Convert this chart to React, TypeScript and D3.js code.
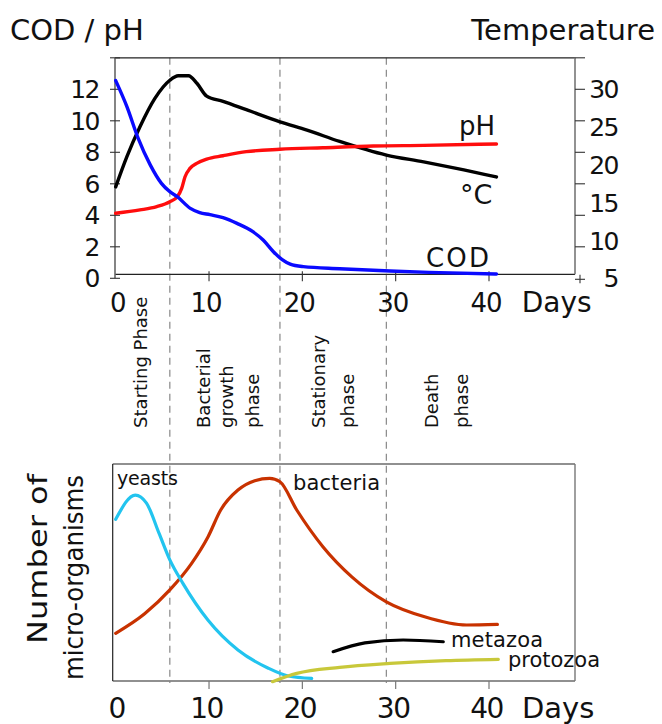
import React, { useEffect, useRef } from "react";
import * as d3 from "d3";

// top chart: COD, pH (left axis) and temperature (right axis)
const codDays = [0, 1.2, 2.4, 3.7, 4.9, 5.8, 6.6, 8.0, 9.0, 10.1, 11.5, 13.0, 14.7, 15.8, 16.9, 17.8, 18.7, 20.1, 24.0, 29.4, 34.7, 40.8];
const codValues = [12.55, 10.9, 8.9, 7.2, 6.03, 5.5, 5.18, 4.44, 4.17, 4.04, 3.85, 3.49, 2.96, 2.43, 1.69, 1.2, 0.9, 0.74, 0.61, 0.46, 0.36, 0.27];

const phDays = [0, 2.6, 4.4, 5.8, 6.6, 7.07, 7.43, 7.96, 8.68, 9.75, 11.5, 14, 17.6, 22.2, 27.6, 33, 40.8];
const phValues = [4.13, 4.34, 4.55, 4.86, 5.18, 5.71, 6.45, 6.98, 7.3, 7.57, 7.78, 8.04, 8.19, 8.29, 8.4, 8.44, 8.53];

const tempDays = [0, 1.2, 2.6, 4.2, 5.8, 6.7, 7.8, 8.7, 9.75, 11.5, 14, 17.6, 20.5, 24.0, 29.0, 33, 36.5, 40.8];
const tempValues = [17.1, 21.1, 25.05, 28.8, 31.2, 31.8, 31.8, 30.8, 29.1, 28.4, 27.3, 25.7, 24.6, 23.1, 21.3, 20.4, 19.55, 18.4];

const leftTicks = [0, 2, 4, 6, 8, 10, 12];
const tempTicks = [5, 10, 15, 20, 25, 30];
const dayTicks = [0, 10, 20, 30, 40];

// phase boundaries (days) and the words written between them
const phaseBounds = [5.8, 17.6, 29.0];
const phaseWords = ["Starting Phase", "Bacterial", "growth", "phase", "Stationary", "phase", "Death", "phase"];
const phaseWordDays = [2.7, 9.45, 11.9, 14.7, 21.7, 24.8, 33.8, 37.1];

// bottom chart: micro-organisms (relative units 0-100)
const yeastDays = [0, 2.1, 3.3, 4.65, 5.8, 7.2, 9.9, 13.1, 16.3, 18.5, 21];
const yeastValues = [74.5, 85.7, 82, 68, 55.8, 45, 28, 14.3, 6, 2.3, 1.2];

const bacteriaDays = [0, 3.1, 5.8, 8.1, 9.9, 11.25, 13.1, 14.9, 16.5, 17.6, 19.4, 22.2, 25.3, 29, 33.1, 37.6, 40.9];
const bacteriaValues = [22, 31, 42, 54, 66.5, 78.8, 88, 92.3, 93.4, 91.8, 78.8, 61.9, 48, 36.5, 29.6, 25.8, 26.1];

const metazoaDays = [23.3, 26.7, 30.8, 35.1];
const metazoaValues = [13.5, 17.6, 18.9, 18.1];

const protozoaDays = [16.8, 19.4, 24, 29.4, 35.4, 41];
const protozoaValues = [-0.3, 3.5, 6.3, 8.1, 9.4, 10];

const W = 662;
const H = 724;

const App = () => {
  const ref = useRef<SVGSVGElement>(null);

  useEffect(() => {
    const svg = d3.select(ref.current);
    svg.selectAll("*").remove();
    svg.attr("font-family", "'DejaVu Sans', Verdana, sans-serif").attr("fill", "#111");

    const x = d3.scaleLinear().domain([0, 40]).range([115.7, 489]);
    const yLeft = d3.scaleLinear().domain([0, 14]).range([278.3, 57.8]);
    const yTemp = d3.scaleLinear().domain([5, 30]).range([278.3, 89.3]);
    const yOrg = d3.scaleLinear().domain([0, 100]).range([681, 464]);

    const xL = x(0) - 0.7;
    const xR = 575;
    const topY = yLeft(14);
    const baseY = yLeft(0) - 4;

    const zip = (a: number[], b: number[]) => a.map((d, i) => [d, b[i]] as [number, number]);

    const drawLine = (pts: [number, number][], ys: d3.ScaleLinear<number, number>, color: string, w: number) => {
      const line = d3
        .line<[number, number]>()
        .x(d => x(d[0]))
        .y(d => ys(d[1]))
        .curve(d3.curveMonotoneX);
      svg
        .append("path")
        .attr("d", line(pts))
        .attr("fill", "none")
        .attr("stroke", color)
        .attr("stroke-width", w)
        .attr("stroke-linecap", "round")
        .attr("stroke-linejoin", "round");
    };

    const hline = (x1: number, x2: number, y: number, color: string, w = 1.2) =>
      svg.append("line").attr("x1", x1).attr("x2", x2).attr("y1", y).attr("y2", y).attr("stroke", color).attr("stroke-width", w);
    const vline = (xx: number, y1: number, y2: number, color: string, w = 1.2) =>
      svg.append("line").attr("x1", xx).attr("x2", xx).attr("y1", y1).attr("y2", y2).attr("stroke", color).attr("stroke-width", w);

    // Titles
    svg.append("text").attr("x", 10).attr("y", 40).attr("font-size", 29).text("COD / pH");
    svg.append("text").attr("x", 655).attr("y", 40).attr("font-size", 29).attr("text-anchor", "end").text("Temperature");

    // Phase dividers
    phaseBounds.forEach(d => {
      vline(x(d), topY, 683, "#888", 1.2).attr("stroke-dasharray", "7,5");
    });

    // Top frame
    hline(xL, xR, topY, "#222");
    hline(xL, xR, baseY, "#222");
    vline(xL, topY, yLeft(0), "#666", 1.6);
    vline(xR, topY, baseY, "#777", 1.6);

    // left axis ticks + labels
    [...leftTicks, 14].forEach(v => hline(xL - 5, xL + 5, yLeft(v), "#333", 1.1));
    leftTicks.forEach(v => {
      svg
        .append("text")
        .attr("x", 99)
        .attr("y", yLeft(v))
        .attr("dy", "0.36em")
        .attr("text-anchor", "end")
        .attr("font-size", 25)
        .attr("letter-spacing", -1.5)
        .text(v);
    });

    // right axis ticks + labels
    [2, 4, 6, 8, 10, 12, 14].forEach(v => hline(xR, xR + 10, yLeft(v), "#333", 1.1));
    hline(xR, xR + 10, yLeft(0) + 1, "#333", 1.1);
    vline(xR + 5, yLeft(0) - 3.5, yLeft(0) + 5, "#333", 1.1);
    tempTicks.forEach(v => {
      svg
        .append("text")
        .attr("x", 618)
        .attr("y", yTemp(v))
        .attr("dy", "0.36em")
        .attr("text-anchor", "end")
        .attr("font-size", 25)
        .attr("letter-spacing", -1.5)
        .text(v);
    });

    // x ticks + labels (top)
    dayTicks.slice(1).forEach(v => vline(x(v), baseY - 3, baseY + 7, "#333", 1.1));
    dayTicks.forEach(v => {
      svg
        .append("text")
        .attr("x", v === 0 ? x(v) + 2 : x(v) - 3)
        .attr("y", 311.7)
        .attr("text-anchor", "middle")
        .attr("font-size", 26)
        .attr("letter-spacing", -1)
        .text(v);
    });
    svg.append("text").attr("x", 521.7).attr("y", 311.7).attr("font-size", 28).text("Days");

    // Top series
    drawLine(zip(tempDays, tempValues), yTemp, "#000", 3.4);
    drawLine(zip(phDays, phValues), yLeft, "#ff0d0d", 3.4);
    drawLine(zip(codDays, codValues), yLeft, "#0a0aff", 3.4);

    svg.append("text").attr("x", 459).attr("y", 135).attr("font-size", 26).text("pH");
    svg.append("text").attr("x", 460).attr("y", 204).attr("font-size", 27).text("°C");
    svg.append("text").attr("x", 426).attr("y", 267).attr("font-size", 26).attr("textLength", 63).text("COD");

    // Phase labels
    phaseWords.forEach((w, i) => {
      svg
        .append("text")
        .attr("transform", `translate(${x(phaseWordDays[i])},428) rotate(-90)`)
        .attr("dy", "0.36em")
        .attr("font-size", 18)
        .text(w);
    });

    // Bottom frame
    const bL = x(0) - 3;
    const bTop = yOrg(100);
    const bBot = yOrg(0);
    hline(bL, xR, bTop, "#222");
    hline(bL, xR, bBot, "#222");
    vline(bL, bTop, bBot, "#222");
    vline(xR, bTop, bBot, "#777", 1.4);
    dayTicks.slice(1).forEach(v => vline(x(v), bBot, bBot + 8, "#777", 1.2));
    dayTicks.forEach(v => {
      svg
        .append("text")
        .attr("x", v === 0 ? x(v) + 1 : x(v) - 2.5)
        .attr("y", 718)
        .attr("text-anchor", "middle")
        .attr("font-size", 28)
        .attr("letter-spacing", -1.5)
        .text(v);
    });
    svg.append("text").attr("x", 522).attr("y", 718).attr("font-size", 29).text("Days");

    svg
      .append("text")
      .attr("transform", "translate(38,474) rotate(-90)")
      .attr("dy", "0.36em")
      .attr("text-anchor", "end")
      .attr("font-size", 26)
      .attr("textLength", 170)
      .attr("lengthAdjust", "spacingAndGlyphs")
      .text("Number of");
    svg
      .append("text")
      .attr("transform", "translate(74,475) rotate(-90)")
      .attr("dy", "0.36em")
      .attr("text-anchor", "end")
      .attr("font-size", 26)
      .attr("textLength", 205)
      .attr("lengthAdjust", "spacingAndGlyphs")
      .text("micro-organisms");

    // Bottom series
    drawLine(zip(bacteriaDays, bacteriaValues), yOrg, "#c83200", 3.2);
    drawLine(zip(yeastDays, yeastValues), yOrg, "#22c4ef", 3.2);
    drawLine(zip(protozoaDays, protozoaValues), yOrg, "#c8c83a", 3.2);
    drawLine(zip(metazoaDays, metazoaValues), yOrg, "#000", 3.2);

    svg.append("text").attr("x", 117).attr("y", 485).attr("font-size", 19).attr("textLength", 61).text("yeasts");
    svg.append("text").attr("x", 293).attr("y", 490).attr("font-size", 21).attr("textLength", 87).text("bacteria");
    svg.append("text").attr("x", 451).attr("y", 647).attr("font-size", 21).attr("textLength", 92).text("metazoa");
    svg.append("text").attr("x", 508).attr("y", 667).attr("font-size", 21).attr("textLength", 92).text("protozoa");
  }, []);

  return <svg ref={ref} width={W} height={H} style={{ position: "absolute", left: 0, top: 0, background: "#fff" }} />;
};

export default App;
